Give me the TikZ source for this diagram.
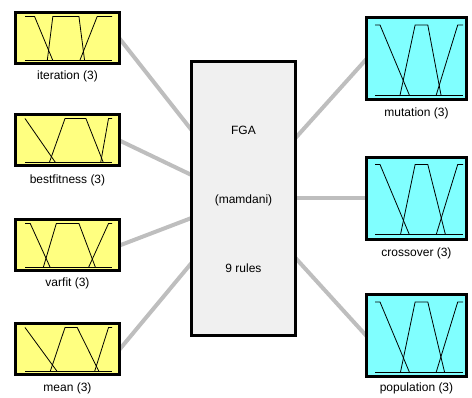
\documentclass[tikz,border=0pt]{standalone}
\usepackage{fontspec}
\setmainfont{Liberation Sans}
\usetikzlibrary{calc,backgrounds}

\definecolor{inyellow}{RGB}{255,255,128}
\definecolor{outcyan}{RGB}{128,255,255}
\definecolor{fisgray}{RGB}{240,240,240}
\definecolor{wiregray}{RGB}{190,190,190}

% three membership functions: left shoulder, trapezoid, right shoulder
\newcommand{\mfthree}[8]{%
	\draw[mf] (0, 0) -- (1, 0);
	\draw[mf] (0, 1) -- (#1, 1) -- (#2, 0);
	\draw[mf] (#3, 0) -- (#4, 1) -- (#5, 1) -- (#6, 0);
	\draw[mf] (#7, 0) -- (#8, 1) -- (1, 1);
}

\tikzset{
	varbox/.style = {draw, line width = 3pt, outer sep = 0pt, inner sep = 0pt},
	invar/.style = {varbox, fill = inyellow, minimum width = 104pt, minimum height = 51pt},
	outvar/.style = {varbox, fill = outcyan, minimum width = 100pt, minimum height = 82pt},
	fisbox/.style = {varbox, fill = fisgray, minimum width = 104pt, minimum height = 274pt},
	wire/.style = {draw = wiregray, line width = 4pt},
	mf/.style = {line width = 0.8pt},
	varname/.style = {font = \fontsize{12}{14}\selectfont},
	inplot/.style = {shift = {($(#1.south west) + (9.5, 3.5)$)}, x = 87pt, y = 44pt},
	outplot/.style = {shift = {($(#1.south west) + (8.5, 5)$)}, x = 88pt, y = 70pt}
}

\begin{document}
\begin{tikzpicture}[x = 1pt, y = 1pt]
	\useasboundingbox (0, 0) rectangle (472, 398);

	\node[fisbox] (fis) at (243.5, 199.5) {};
	\node[varname] at (243.5, 268) {FGA};
	\node[varname] at (243.5, 198) {(mamdani)};
	\node[varname] at (243.5, 130) {9 rules};

	\node[invar] (iter) at (67.5, 359.5) {};
	\node[varname] (iterlab) at (67.5, 322) {iteration (3)};
	\node[invar] (best) at (67.5, 257.5) {};
	\node[varname] (bestlab) at (67.5, 218) {bestfitness (3)};
	\node[invar] (vfit) at (67.5, 152.5) {};
	\node[varname] (vfitlab) at (67.5, 115) {varfit (3)};
	\node[invar] (mean) at (67.5, 48.5) {};
	\node[varname] (meanlab) at (67.5, 10) {mean (3)};

	\node[outvar] (mut) at (416.5, 339) {};
	\node[varname] (mutlab) at (416.5, 285) {mutation (3)};
	\node[outvar] (cross) at (416.5, 199.5) {};
	\node[varname] (crosslab) at (416.5, 145) {crossover (3)};
	\node[outvar] (pop) at (416.5, 62) {};
	\node[varname] (poplab) at (416.5, 10) {population (3)};

	\begin{scope}[inplot = iter]
		\mfthree{.11}{.32}{.256}{.32}{.62}{.685}{.63}{.83}
	\end{scope}
	\begin{scope}[inplot = best]
		\mfthree{0}{.35}{.28}{.46}{.7}{.9}{.87}{.96}
	\end{scope}
	\begin{scope}[inplot = vfit]
		\mfthree{.06}{.29}{.21}{.36}{.62}{.81}{.73}{.96}
	\end{scope}
	\begin{scope}[inplot = mean]
		\mfthree{0}{.37}{.29}{.46}{.6}{.85}{.8}{.96}
	\end{scope}
	\begin{scope}[outplot = mut]
		\mfthree{.057}{.39}{.285}{.456}{.6}{.75}{.696}{.94}
	\end{scope}
	\begin{scope}[outplot = cross]
		\mfthree{.057}{.39}{.29}{.456}{.6}{.8}{.696}{.94}
	\end{scope}
	\begin{scope}[outplot = pop]
		\mfthree{.057}{.39}{.29}{.456}{.6}{.79}{.696}{.94}
	\end{scope}

	\coordinate (in1) at ($(fis.west) + (0, 68.5)$);
	\coordinate (in2) at ($(fis.west) + (0, 23.5)$);
	\coordinate (in3) at ($(fis.west) + (0, -19.5)$);
	\coordinate (in4) at ($(fis.west) + (0, -64.5)$);
	\coordinate (out1) at ($(fis.east) + (0, 60.5)$);
	\coordinate (out2) at (fis.east);
	\coordinate (out3) at ($(fis.east) + (0, -59.5)$);

	\begin{scope}[on background layer]
		\draw[wire] (iter.east) -- (in1);
		\draw[wire] (best.east) -- (in2);
		\draw[wire] (vfit.east) -- (in3);
		\draw[wire] (mean.east) -- (in4);
		\draw[wire] (out1) -- (mut.west);
		\draw[wire] (out2) -- (cross.west);
		\draw[wire] (out3) -- (pop.west);
	\end{scope}
\end{tikzpicture}
\end{document}
